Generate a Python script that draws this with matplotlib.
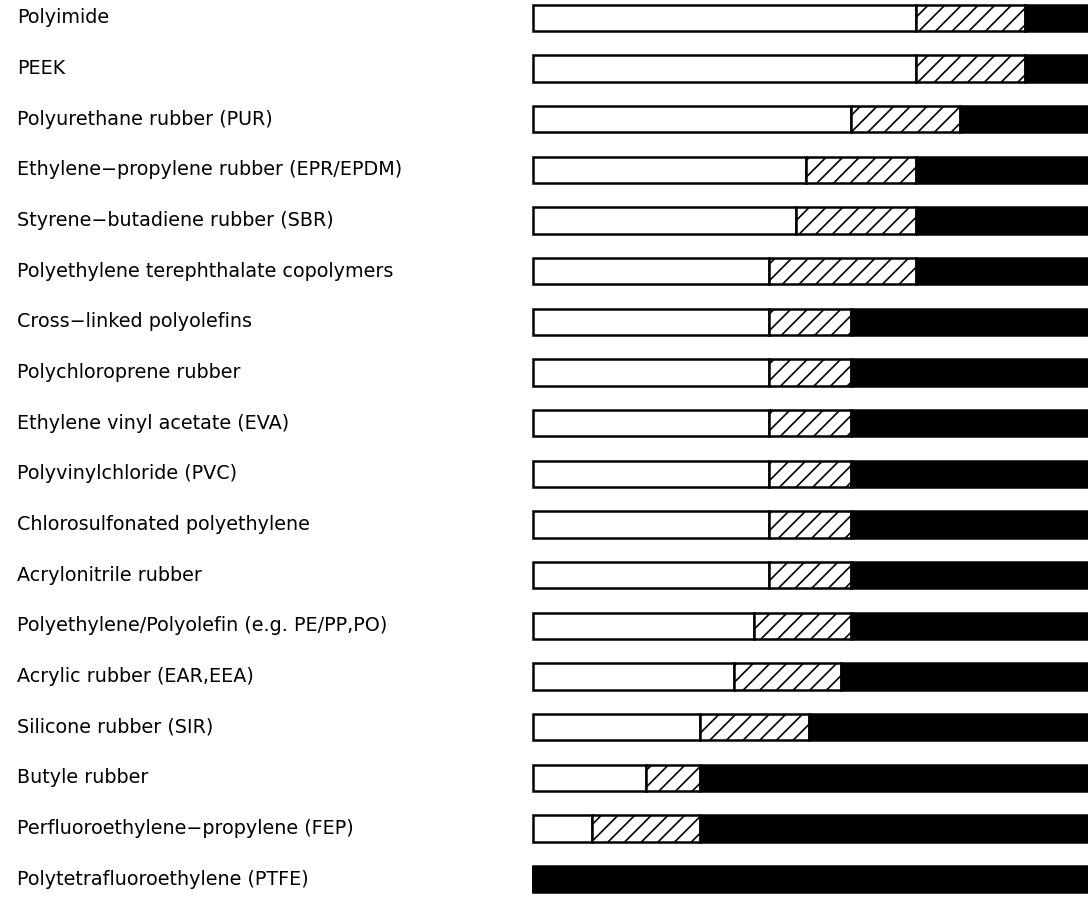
import numpy as np
import matplotlib.pyplot as plt

# =========================
# DATA (share of bar length, %)
# =========================
materials = [
    "Polyimide",
    "PEEK",
    "Polyurethane rubber (PUR)",
    "Ethylene\u2212propylene rubber (EPR/EPDM)",
    "Styrene\u2212butadiene rubber (SBR)",
    "Polyethylene terephthalate copolymers",
    "Cross\u2212linked polyolefins",
    "Polychloroprene rubber",
    "Ethylene vinyl acetate (EVA)",
    "Polyvinylchloride (PVC)",
    "Chlorosulfonated polyethylene",
    "Acrylonitrile rubber",
    "Polyethylene/Polyolefin (e.g. PE/PP,PO)",
    "Acrylic rubber (EAR,EEA)",
    "Silicone rubber (SIR)",
    "Butyle rubber",
    "Perfluoroethylene\u2212propylene (FEP)",
    "Polytetrafluoroethylene (PTFE)",
]

# end of the white part and end of the hatched part
white_end = [69.0, 69.0, 57.3, 49.2, 47.4, 42.5, 42.5, 42.5, 42.5,
             42.5, 42.5, 42.5, 39.8, 36.2, 30.1, 20.4, 10.6, 0.0]
hatch_end = [88.6, 88.6, 76.9, 69.0, 69.0, 69.0, 57.3, 57.3, 57.3,
             57.3, 57.3, 57.3, 57.3, 55.5, 49.7, 30.1, 30.1, 0.0]
total = 101.0

white_end = np.array(white_end)
hatch_end = np.array(hatch_end)
hatch_w = hatch_end - white_end
black_w = total - hatch_end

# =========================
# PLOT
# =========================
plt.rcParams["hatch.linewidth"] = 1.2

fig = plt.figure(figsize=(10.88, 9.0), dpi=100)
ax = fig.add_axes([0, 0, 1, 1])

y = np.arange(len(materials))
h = 0.52
lw = 1.8

ax.barh(y, white_end, left=0, height=h, color="white",
        edgecolor="black", linewidth=lw)
ax.barh(y, hatch_w, left=white_end, height=h, color="white",
        edgecolor="black", linewidth=lw, hatch="//")
ax.barh(y, black_w, left=hatch_end, height=h, color="black",
        edgecolor="black", linewidth=lw)

for yi, name in zip(y, materials):
    ax.text(0.016, yi, name, transform=ax.get_yaxis_transform(),
            ha="left", va="center", fontsize=13.8, color="black")

ax.set_xlim(-96.0, 100)
ax.set_ylim(17.41, -0.355)
ax.axis("off")

fig.savefig("out.png", dpi=100, facecolor="white")
